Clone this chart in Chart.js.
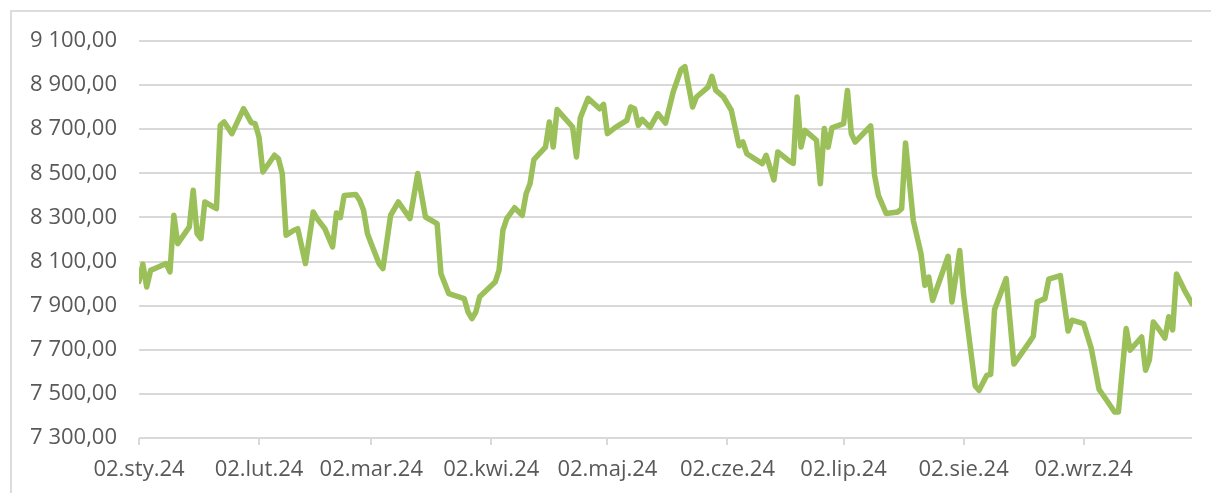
<!DOCTYPE html>
<html>
<head>
<meta charset="utf-8">
<script src="https://cdn.jsdelivr.net/npm/chart.js@4.4.1/dist/chart.umd.min.js"></script>
<style>
html,body{margin:0;padding:0;background:#fff;}
#wrap{position:relative;width:1211px;height:493px;overflow:hidden;background:#fff;}
#frame{position:absolute;left:10px;top:10px;width:1400px;height:700px;border-top:2px solid #dcdcdc;border-left:2px solid #dcdcdc;}
canvas{position:absolute;left:0;top:0;}
</style>
</head>
<body>
<div id="wrap"><div id="frame"></div><canvas id="c" width="1211" height="493"></canvas></div>
<script>
const startDate = '2024-01-02';
const endDate = '2024-09-30';

const dates = [
'2024-01-02','2024-01-03','2024-01-04','2024-01-05','2024-01-07','2024-01-09','2024-01-10','2024-01-11','2024-01-12','2024-01-15',
'2024-01-16','2024-01-17','2024-01-18','2024-01-19','2024-01-22','2024-01-23','2024-01-24','2024-01-26','2024-01-29','2024-01-31',
'2024-02-01','2024-02-02','2024-02-03','2024-02-06','2024-02-07','2024-02-08','2024-02-09','2024-02-11','2024-02-12','2024-02-14',
'2024-02-16','2024-02-17','2024-02-19','2024-02-21','2024-02-22','2024-02-23','2024-02-24','2024-02-27','2024-02-28','2024-02-29',
'2024-03-01','2024-03-02','2024-03-04','2024-03-05','2024-03-07','2024-03-09','2024-03-12','2024-03-14','2024-03-16','2024-03-19',
'2024-03-20','2024-03-22','2024-03-26','2024-03-27','2024-03-28','2024-03-29','2024-03-30','2024-04-03','2024-04-04','2024-04-05',
'2024-04-06','2024-04-08','2024-04-10','2024-04-11','2024-04-12','2024-04-13','2024-04-16','2024-04-17','2024-04-18','2024-04-19',
'2024-04-23','2024-04-24','2024-04-25','2024-04-27','2024-04-30','2024-05-01','2024-05-02','2024-05-04','2024-05-07','2024-05-08',
'2024-05-09','2024-05-10','2024-05-11','2024-05-13','2024-05-15','2024-05-17','2024-05-19','2024-05-21','2024-05-22','2024-05-24',
'2024-05-25','2024-05-28','2024-05-29','2024-05-30','2024-06-01','2024-06-03','2024-06-05','2024-06-06','2024-06-07','2024-06-11',
'2024-06-12','2024-06-14','2024-06-15','2024-06-18','2024-06-19','2024-06-20','2024-06-21','2024-06-22','2024-06-23','2024-06-25',
'2024-06-26','2024-06-27','2024-06-28','2024-06-29','2024-07-02','2024-07-03','2024-07-04','2024-07-05','2024-07-09','2024-07-10',
'2024-07-11','2024-07-13','2024-07-16','2024-07-17','2024-07-18','2024-07-20','2024-07-22','2024-07-23','2024-07-24','2024-07-25',
'2024-07-29','2024-07-30','2024-08-01','2024-08-02','2024-08-05','2024-08-06','2024-08-08','2024-08-09','2024-08-10','2024-08-13',
'2024-08-15','2024-08-19','2024-08-20','2024-08-21','2024-08-23','2024-08-24','2024-08-27','2024-08-29','2024-08-30','2024-09-02',
'2024-09-04','2024-09-06','2024-09-08','2024-09-10','2024-09-11','2024-09-13','2024-09-14','2024-09-17','2024-09-18','2024-09-19',
'2024-09-20','2024-09-22','2024-09-23','2024-09-24','2024-09-25','2024-09-26','2024-09-28','2024-09-30'
];

const values = [
8010,8088,7985,8060,8075,8091,8053,8310,8181,8257,
8423,8227,8204,8370,8340,8718,8733,8680,8793,8730,
8725,8665,8506,8582,8567,8500,8219,8242,8249,8091,
8325,8295,8249,8166,8320,8299,8400,8404,8378,8333,
8227,8181,8091,8068,8310,8370,8295,8499,8302,8272,
8045,7955,7932,7871,7841,7871,7940,8007,8060,8242,
8295,8344,8310,8408,8453,8562,8619,8733,8619,8789,
8710,8574,8752,8840,8793,8813,8680,8707,8740,8801,
8793,8718,8745,8708,8771,8728,8870,8970,8984,8801,
8846,8891,8940,8876,8846,8786,8625,8642,8589,8544,
8582,8470,8597,8555,8545,8846,8619,8695,8680,8650,
8453,8703,8619,8706,8725,8876,8680,8642,8715,8491,
8400,8318,8325,8340,8638,8287,8136,7992,8030,7924,
8124,7917,8150,7950,7536,7516,7584,7589,7883,8023,
7635,7735,7761,7917,7932,8020,8036,7785,7834,7819,
7705,7520,7470,7418,7418,7796,7698,7758,7607,7655,
7826,7780,7753,7850,7790,8044,7972,7909
];

const tickDates = ['2024-01-02','2024-02-02','2024-03-02','2024-04-02','2024-05-02','2024-06-02','2024-07-02','2024-08-02','2024-09-02'];
const tickLabels = ['02.sty.24','02.lut.24','02.mar.24','02.kwi.24','02.maj.24','02.cze.24','02.lip.24','02.sie.24','02.wrz.24'];

const yMin = 7300, yMax = 9100, yStep = 200;

const dayOf = d => Math.round((Date.parse(d) - Date.parse(startDate)) / 86400000);
const fmt = v => {
  const parts = Number(v).toFixed(2).split('.');
  return parts[0].replace(/\B(?=(\d{3})+(?!\d))/g, ' ') + ',' + parts[1];
};

const labelFont = { family: 'Open Sans', size: 22 };

new Chart(document.getElementById('c').getContext('2d'), {
  type: 'line',
  data: {
    datasets: [{
      data: dates.map((d, i) => ({ x: dayOf(d), y: values[i] })),
      borderColor: '#9bbf59',
      borderWidth: 5.5,
      pointRadius: 0,
      tension: 0,
      borderJoinStyle: 'round',
      borderCapStyle: 'round',
      fill: false
    }]
  },
  options: {
    responsive: false,
    animation: false,
    devicePixelRatio: 1,
    layout: { padding: { top: 41, right: 19, left: 0, bottom: 0 } },
    plugins: { legend: { display: false }, tooltip: { enabled: false } },
    scales: {
      x: {
        type: 'linear',
        min: 0,
        max: dayOf(endDate),
        afterBuildTicks: s => { s.ticks = tickDates.map(d => ({ value: dayOf(d) })); },
        afterFit: s => { s.height = 55; },
        ticks: {
          autoSkip: false, maxRotation: 0, minRotation: 0,
          callback: (v, i) => tickLabels[i],
          color: '#595959', font: labelFont, padding: 12
        },
        grid: { drawOnChartArea: false, drawTicks: true, tickLength: 7, color: '#d9d9d9', lineWidth: 2 },
        border: { display: false }
      },
      y: {
        min: yMin, max: yMax,
        afterFit: s => { s.width = 139; },
        ticks: { stepSize: yStep, callback: v => fmt(v), color: '#595959', font: labelFont, padding: 22 },
        grid: { color: '#d9d9d9', lineWidth: 2, drawTicks: false },
        border: { display: false }
      }
    }
  }
});
</script>
</body>
</html>
